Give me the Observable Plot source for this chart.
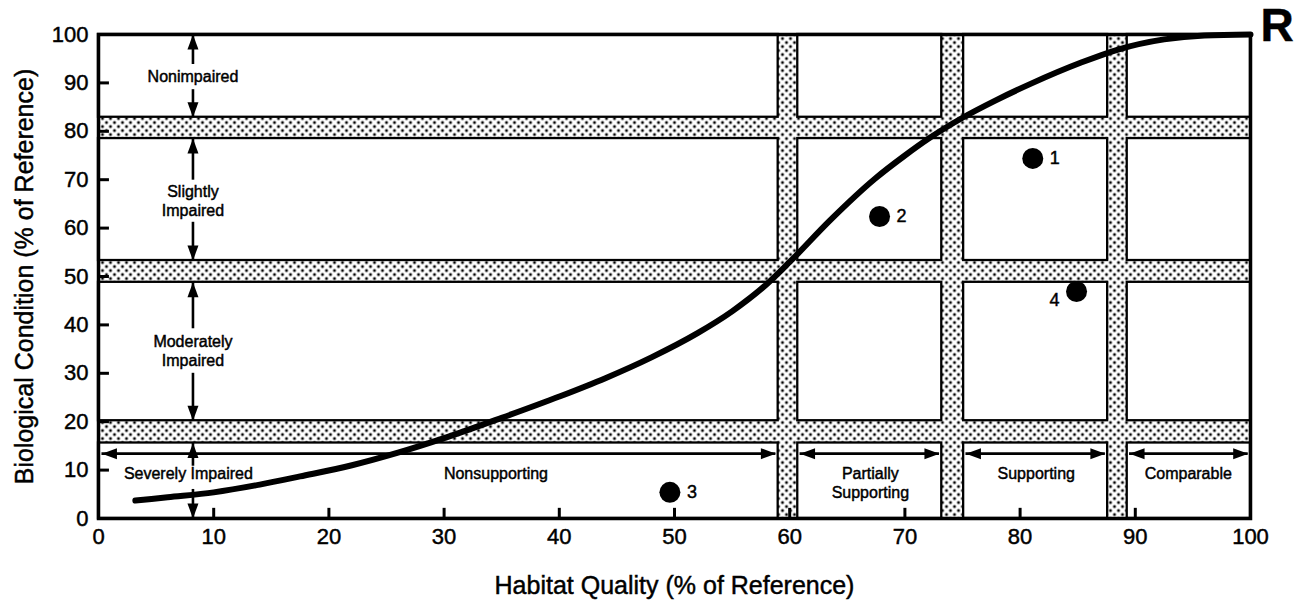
<!DOCTYPE html>
<html><head><meta charset="utf-8">
<script src="https://cdn.jsdelivr.net/npm/d3@7"></script>
<script src="https://cdn.jsdelivr.net/npm/@observablehq/plot@0.6"></script>
<style>body{margin:0;background:#fff;} svg{display:block} svg text{stroke:#000;stroke-width:0.45px;}</style>
</head><body><div id="chart"></div>
<script>
// ---- data ----
const xTicks = [0,10,20,30,40,50,60,70,80,90,100];
const yTicks = [0,10,20,30,40,50,60,70,80,90,100];
const innerTicks = [10,20,30,40,50,60,70,80,90];
const xTitle = "Habitat Quality (% of Reference)";
const yTitle = "Biological Condition (% of Reference)";
const panelLetter = "R";

// white cells between the stippled bands
const colStart = [0, 60.7, 75.1, 89.3];
const colEnd   = [59.0, 73.2, 87.6, 100];
const rowStart = [0, 20.2, 53.3, 82.9];
const rowEnd   = [15.6, 48.8, 78.5, 100];

// relationship curve
const curveX = [3.2, 6, 10, 14, 17.5, 22, 26, 30, 35, 40, 44, 48, 52, 55, 58, 60, 63.5, 67.4, 70, 72, 75, 77.8, 81, 85.3, 88.5, 92.5, 96, 100];
const curveY = [3.7, 4.4, 5.4, 7.0, 8.7, 11.0, 13.6, 16.6, 20.8, 25.2, 29.0, 33.3, 38.3, 42.8, 48.4, 53.0, 61.6, 70.2, 75.0, 78.4, 82.8, 86.3, 89.9, 94.2, 96.9, 99.0, 99.8, 100];

// sites
const siteLabel = ["1", "2", "3", "4"];
const siteX = [81.1, 67.8, 49.6, 84.9];
const siteY = [74.4, 62.4, 5.4, 46.9];
const siteSide = ["right", "right", "right", "left"];

// biological condition classes
const impairLabel = ["Nonimpaired", "Slightly\nImpaired", "Moderately\nImpaired", "Severely Impaired"];
const impairX = [8.2, 8.2, 8.2, 7.8];
const impairY = [91.4, 65.7, 34.7, 9.3];

// use support classes
const useLabel = ["Nonsupporting", "Partially\nSupporting", "Supporting", "Comparable"];
const useX = [34.5, 67.0, 81.4, 94.6];
const useY = [9.3, 7.4, 9.3, 9.4];

// arrows
const vArrowX = 8.2;
const vArrowFrom = [93.8, 88.6, 69.9, 61.2, 39.2, 30.0, 10.8, 6.0];
const vArrowTo   = [100, 82.9, 78.5, 53.3, 48.8, 20.2, 15.6, 0];
const hArrowY = 13.4;
const hArrowX1 = [0.3, 60.9, 75.3, 89.5];
const hArrowX2 = [58.8, 73.0, 87.4, 99.8];

// ---- build tables ----
const cells = rowStart.flatMap((y1, r) => colStart.map((x1, c) => ({x1, x2: colEnd[c], y1, y2: rowEnd[r]})));
const curve = curveX.map((x, i) => ({x, y: curveY[i]}));
const sites = siteLabel.map((label, i) => ({label, x: siteX[i], y: siteY[i], side: siteSide[i]}));
const impair = impairLabel.map((t, i) => ({t, x: impairX[i], y: impairY[i]}));
const uses = useLabel.map((t, i) => ({t, x: useX[i], y: useY[i]}));
const vArrows = vArrowFrom.map((from, i) => ({x: vArrowX, from, to: vArrowTo[i], dir: vArrowTo[i] > from ? "up" : "down"}));
const hArrows = hArrowX1.map((x1, i) => ({x1, x2: hArrowX2[i], y: hArrowY}));

const head = (dx, dy) => ({draw(ctx) {
  const L = 15, W = 5.5;
  const bx = -dx * L, by = -dy * L, px = -dy * W, py = dx * W;
  ctx.moveTo(0, 0); ctx.lineTo(bx + px, by + py); ctx.lineTo(bx - px, by - py); ctx.closePath();
}});
const headUp = head(0, -1), headDown = head(0, 1), headLeft = head(-1, 0), headRight = head(1, 0);

const svg = Plot.plot({
  width: 1297, height: 602,
  marginLeft: 98, marginRight: 47, marginTop: 34, marginBottom: 84,
  style: {fontFamily: '"Liberation Sans", Arial, Helvetica, sans-serif', background: "white", color: "black"},
  x: {domain: [xTicks[0], xTicks[xTicks.length - 1]]},
  y: {domain: [yTicks[0], yTicks[yTicks.length - 1]]},
  marks: [
    Plot.frame({fill: "url(#stipple)", stroke: null}),
    Plot.rect(cells, {x1: "x1", x2: "x2", y1: "y1", y2: "y2", fill: "white", stroke: "black", strokeWidth: 2.3}),
    Plot.ruleY(innerTicks, {y: d => d, x1: 0, x2: 0.95, stroke: "black", strokeWidth: 3}),
    Plot.ruleX(innerTicks, {x: d => d, y1: 0, y2: 2.1, stroke: "black", strokeWidth: 3}),
    Plot.axisX({ticks: xTicks, tickSize: 0, tickPadding: 10, fontSize: 22, label: null}),
    Plot.axisY({ticks: yTicks, tickSize: 0, tickPadding: 10, fontSize: 22, label: null}),
    // arrows
    Plot.ruleX(vArrows, {x: "x", y1: "from", y2: "to", stroke: "black", strokeWidth: 2.6}),
    Plot.dot(vArrows.filter(d => d.dir === "up"), {x: "x", y: "to", symbol: headUp, r: 6, fill: "black", stroke: null}),
    Plot.dot(vArrows.filter(d => d.dir === "down"), {x: "x", y: "to", symbol: headDown, r: 6, fill: "black", stroke: null}),
    Plot.ruleY(hArrows, {y: "y", x1: "x1", x2: "x2", stroke: "black", strokeWidth: 2.6}),
    Plot.dot(hArrows, {x: "x1", y: "y", symbol: headLeft, r: 6, fill: "black", stroke: null}),
    Plot.dot(hArrows, {x: "x2", y: "y", symbol: headRight, r: 6, fill: "black", stroke: null}),
    // class labels
    Plot.text(impair, {x: "x", y: "y", text: "t", fontSize: 16, lineHeight: 1.15, fill: "black"}),
    Plot.text(uses, {x: "x", y: "y", text: "t", fontSize: 16, lineHeight: 1.15, fill: "black"}),
    // curve
    Plot.line(curve, {x: "x", y: "y", curve: "monotone-x", stroke: "black", strokeWidth: 6, strokeLinecap: "round"}),
    // sites
    Plot.dot(sites, {x: "x", y: "y", r: 10.5, fill: "black", stroke: null}),
    Plot.text(sites.filter(d => d.side === "right"), {x: "x", y: "y", text: "label", textAnchor: "start", dx: 17, fontSize: 18}),
    Plot.text(sites.filter(d => d.side === "left"), {x: "x", y: "y", text: "label", textAnchor: "end", dx: -17, dy: 9, fontSize: 18}),
    Plot.frame({stroke: "black", strokeWidth: 3.5}),
    // titles
    Plot.text([yTitle], {frameAnchor: "left", rotate: -90, dx: -74, textAnchor: "middle", lineAnchor: "middle", fontSize: 25}),
    Plot.text([xTitle], {frameAnchor: "bottom", dy: 67, textAnchor: "middle", lineAnchor: "middle", fontSize: 25}),
    Plot.text([panelLetter], {frameAnchor: "top-right", dx: 10, dy: -8, textAnchor: "start", lineAnchor: "middle", fontSize: 46, fontWeight: "bold"})
  ]
});
const defs = document.createElementNS("http://www.w3.org/2000/svg", "defs");
defs.innerHTML = '<pattern id="stipple" patternUnits="userSpaceOnUse" width="8" height="8">' +
  '<rect width="8" height="8" fill="white"/><circle cx="2" cy="2" r="1.5" fill="black"/><circle cx="6" cy="6" r="1.5" fill="black"/></pattern>';
svg.insertBefore(defs, svg.firstChild);
document.getElementById("chart").appendChild(svg);
</script>
</body></html>
